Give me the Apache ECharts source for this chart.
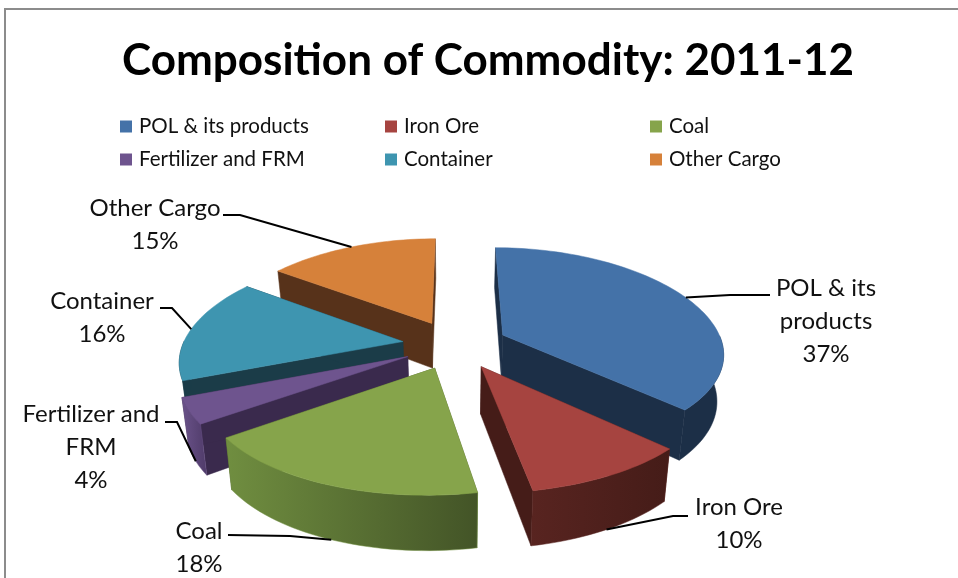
<!DOCTYPE html>
<html>
<head>
<meta charset="utf-8">
<style>html,body{margin:0;padding:0;background:#fff}#chart{width:958px;height:578px}</style>
<script src="https://cdn.jsdelivr.net/npm/echarts@6/dist/echarts.min.js"></script>
</head>
<body>
<div id="chart"></div>
<script>
// Commodity shares for 2011-12, percent of total, clockwise from twelve o'clock
const categories = ['POL & its products', 'Iron Ore', 'Coal', 'Fertilizer and FRM', 'Container', 'Other Cargo'];
const shares = [37, 10, 18, 4, 16, 15];
const labelTexts = ['POL & its\nproducts', 'Iron Ore', 'Coal', 'Fertilizer and\nFRM', 'Container', 'Other Cargo'];

// Face colours per slice
const topColors = ['#4472a8', '#a64440', '#86a44b', '#6e548e', '#3e95b0', '#d6813a'];
const wallColors = ['#1c2f47', '#451c18', '#4a5c29', '#3a2a4d', '#1b3c48', '#57321a'];
const rimColors = [
  ['#1c2f47', '#1c2f47'], ['#582420', '#451c18'], ['#708e40', '#435427'],
  ['#6a5289', '#4f3b69'], ['#1b3c48', '#1b3c48'], ['#57321a', '#57321a']
];

// Callout layout: elbow and free end of each leader line, and centre of its text
const calloutElbows = [[730, 295], [673, 516], [290, 536], [177, 422], [172, 308], [240, 215]];
const calloutEnds = [[770, 295], [688, 516], [228, 535], [165, 422], [160, 308], [223, 215]];
const calloutCentres = [[826, 321], [739, 524], [199, 548], [91, 447], [102, 318], [155, 225]];

// Projection of the tilted pie
const view = {
  cx: 455, cy: 344.6, rx: 220, ry: 102, persp: 0.14, explode: 0.24,
  depth: 46, baseShrink: 0.975, skew: 6, frontDrift: 3
};
const TAU = Math.PI * 2;
const total = shares.reduce((a, b) => a + b, 0);

function spans(i) {
  let before = 0;
  for (let k = 0; k < i; k++) before += shares[k];
  const a0 = before / total * TAU;
  const a1 = (before + shares[i]) / total * TAU;
  return { a0, a1, mid: (a0 + a1) / 2 };
}

// Disc coordinates (u right, v towards the viewer) to screen, top or bottom face
function project(u, v, bottom) {
  const s = 1 / (1 - view.persp * v);
  const near = Math.max(v, 0);
  const x = u * view.rx * s + view.skew * u * v - view.frontDrift * near * near;
  const y = v * view.ry * s;
  return bottom
    ? [view.cx + x * view.baseShrink, view.cy + y + view.depth * s]
    : [view.cx + x, view.cy + y];
}

function rimPoint(i, angle, radius, bottom) {
  const m = spans(i).mid;
  const u = view.explode * Math.sin(m) + radius * Math.sin(angle);
  const v = -view.explode * Math.cos(m) - radius * Math.cos(angle);
  return project(u, v, bottom);
}

function sliceGraphic(i) {
  const { a0, a1, mid } = spans(i);
  const steps = Math.max(8, Math.ceil((a1 - a0) / 0.03));
  const topArc = [], rimTop = [], rimBase = [];
  for (let k = 0; k <= steps; k++) {
    const a = a0 + (a1 - a0) * k / steps;
    topArc.push(rimPoint(i, a, 1, false));
    // Only the half of the rim that faces the viewer is drawn
    if (Math.cos(a) <= 0.02) {
      rimTop.push(rimPoint(i, a, 1, false));
      rimBase.push(rimPoint(i, a, 1, true));
    }
  }
  const apexTop = rimPoint(i, 0, 0, false);
  const apexBase = rimPoint(i, 0, 0, true);
  const face = (pts, fill) => ({
    type: 'polygon',
    shape: { points: pts },
    style: { fill, stroke: typeof fill === 'string' ? fill : fill.colorStops[0].color, lineWidth: 0.5 }
  });
  const rimFill = {
    type: 'linear', x: 0, y: 0, x2: 1, y2: 0,
    colorStops: [{ offset: 0, color: rimColors[i][0] }, { offset: 1, color: rimColors[i][1] }]
  };
  const wall0 = [apexTop, topArc[0], rimPoint(i, a0, 1, true), apexBase];
  const wall1 = [apexTop, topArc[steps], rimPoint(i, a1, 1, true), apexBase];
  const faces = [face(wall0, wallColors[i]), face(wall1, wallColors[i])];
  if (rimTop.length > 1) faces.push(face(rimTop.concat(rimBase.slice().reverse()), rimFill));
  faces.push(face(topArc.concat([apexTop]), topColors[i]));

  // Leader anchors on the upper edge for back slices, on the lower edge for front ones
  const anchor = rimPoint(i, mid, 1, Math.cos(mid) < -0.2);
  const leader = {
    type: 'polyline',
    shape: { points: [anchor, calloutElbows[i], calloutEnds[i]] },
    style: { stroke: '#000', lineWidth: 2, fill: 'none' }
  };
  const label = {
    type: 'text',
    x: calloutCentres[i][0],
    y: calloutCentres[i][1],
    style: {
      text: labelTexts[i] + '\n' + shares[i] + '%',
      fill: '#111',
      align: 'center',
      verticalAlign: 'middle',
      fontFamily: 'Lato',
      fontSize: 24,
      lineHeight: 33
    }
  };
  return { type: 'group', children: faces.concat([leader, label]) };
}

// Slices furthest from the viewer are painted first
const order = categories.map((_, i) => i)
  .sort((p, q) => -Math.cos(spans(p).mid) + Math.cos(spans(q).mid));

const series = categories.map((name, i) => ({
  type: 'custom',
  name,
  coordinateSystem: 'none',
  z: 2 + order.indexOf(i),
  silent: true,
  animation: false,
  itemStyle: { color: topColors[i] },
  data: [[shares[i]]],
  renderItem: () => sliceGraphic(i)
}));

const legendBase = {
  orient: 'vertical',
  top: 116,
  padding: 0,
  icon: 'rect',
  itemWidth: 12,
  itemHeight: 12,
  itemGap: 12,
  selectedMode: false,
  textStyle: { fontFamily: 'Lato', fontSize: 20.5, color: '#111', padding: [0, 0, 0, 2] }
};

const chart = echarts.init(document.getElementById('chart'), null, { renderer: 'canvas' });
chart.setOption({
  backgroundColor: '#fff',
  animation: false,
  title: {
    text: 'Composition of Commodity: 2011-12',
    left: 122,
    top: 39,
    padding: 0,
    textStyle: { fontFamily: 'Lato', fontWeight: 'bold', fontSize: 44, color: '#000' }
  },
  legend: [
    Object.assign({}, legendBase, { left: 120, data: [categories[0], categories[3]] }),
    Object.assign({}, legendBase, { left: 385, data: [categories[1], categories[4]] }),
    Object.assign({}, legendBase, { left: 650, data: [categories[2], categories[5]] })
  ],
  graphic: [{
    type: 'polyline',
    silent: true,
    shape: { points: [[5, 578], [5, 9], [958, 9]] },
    style: { stroke: '#8c8c8c', lineWidth: 2, fill: 'none' }
  }],
  series
});
</script>
</body>
</html>
